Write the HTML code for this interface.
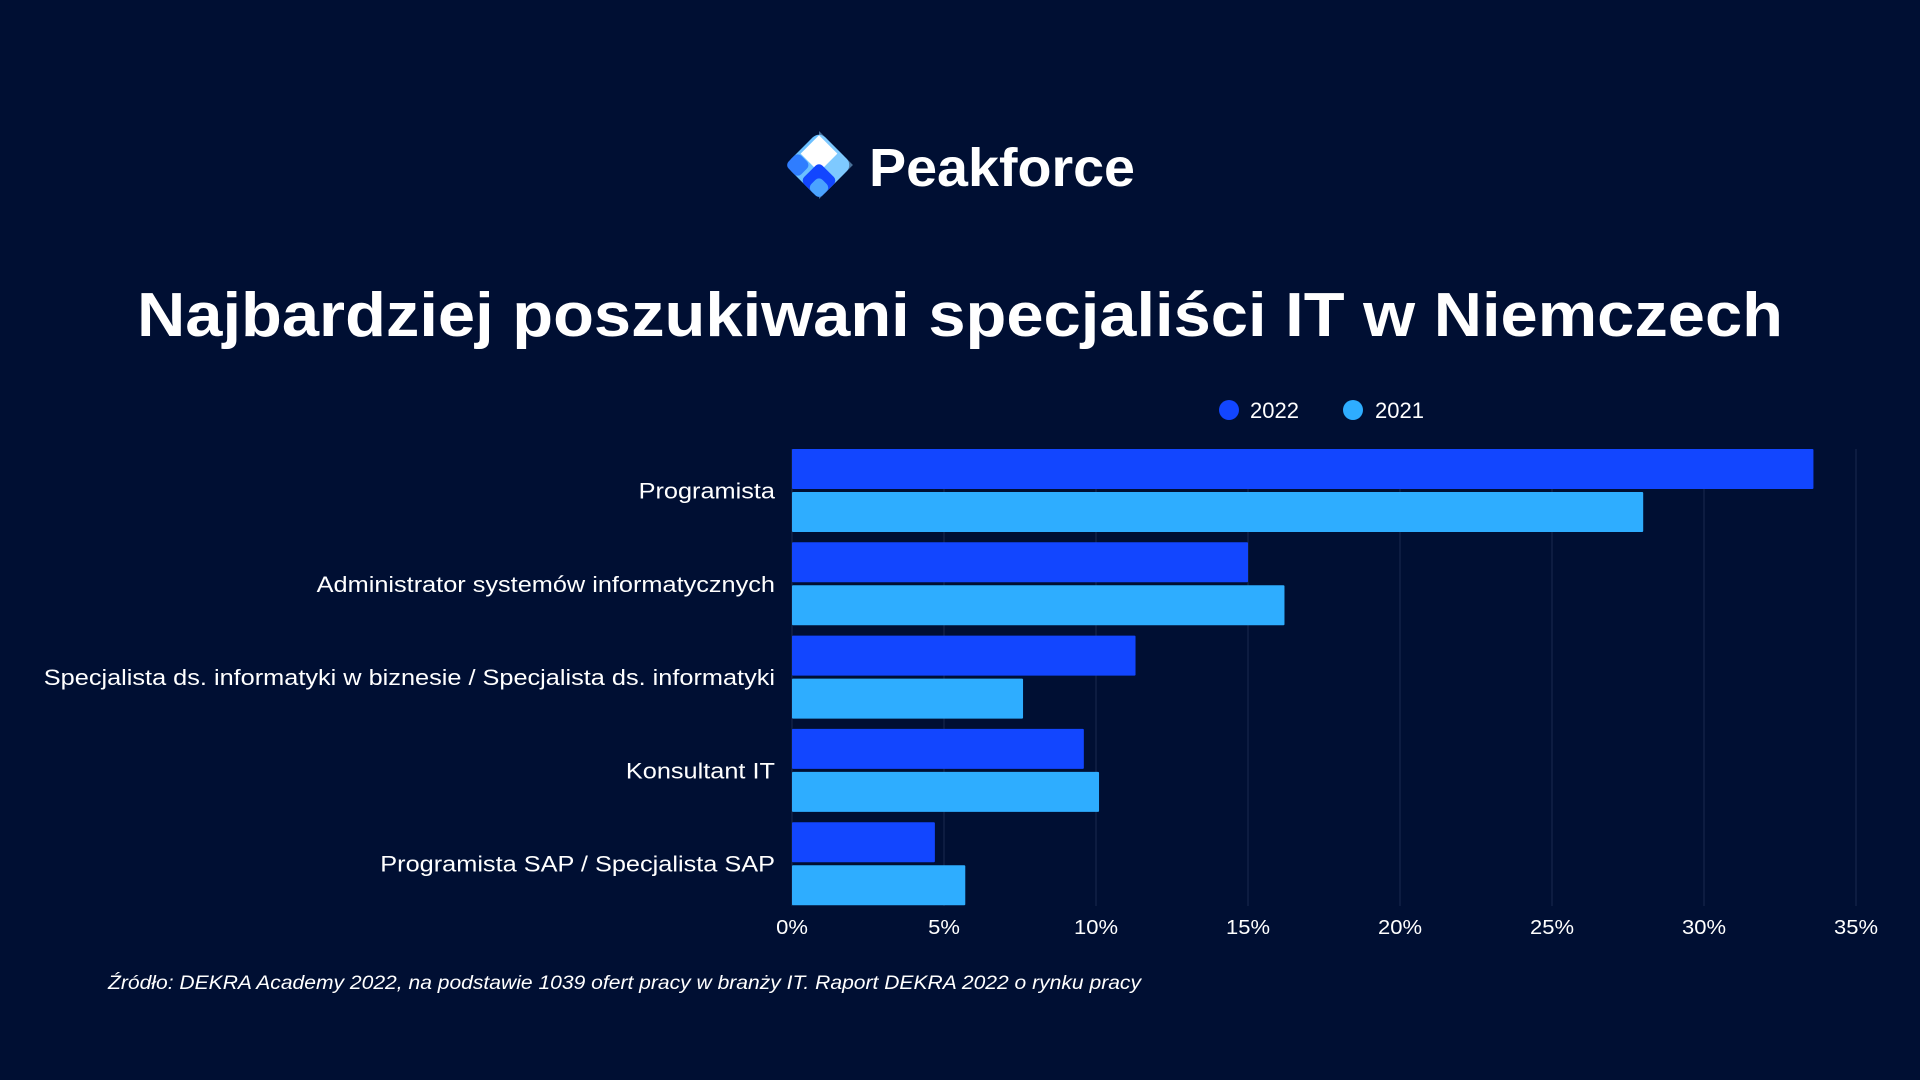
<!DOCTYPE html>
<html><head><meta charset="utf-8"><style>
html,body{margin:0;padding:0;background:#000f33;}
svg{display:block;font-family:"Liberation Sans",sans-serif;}
</style></head><body>
<svg id="chart" width="1920" height="1080" viewBox="0 0 1920 1080">
<rect width="1920" height="1080" fill="#000f33"/>
<g>
  <g transform="translate(819,165) rotate(45)">
    <rect x="-24" y="-24" width="48" height="48" rx="9" fill="#6cc0ff"/>
    <polygon points="-24,-24 24,-24 24,24" fill="#8fd1ff" opacity="0.5"/>
    <rect x="-13" y="-13" width="26" height="26" fill="#ffffff" transform="translate(-8,-8)"/>
    <rect x="-2" y="-2" width="26" height="26" rx="5" fill="#1246ff"/>
    <rect x="-24" y="6" width="18" height="18" rx="5" fill="#2f7dff"/>
    <rect x="8" y="8" width="16" height="16" rx="5" fill="#4aa3ff"/>
  </g>
  <text x="869" y="186" font-size="54" font-weight="bold" fill="#ffffff" textLength="266" lengthAdjust="spacingAndGlyphs">Peakforce</text>
</g>
<text x="960" y="336" text-anchor="middle" font-size="62" font-weight="bold" fill="#ffffff" textLength="1646" lengthAdjust="spacingAndGlyphs">Najbardziej poszukiwani specjaliści IT w Niemczech</text>
<g>
  <g>
    <circle cx="1229" cy="410" r="10" fill="#1246ff"/>
    <text x="1250" y="418" font-size="22" fill="#ffffff">2022</text>
  </g>
  <g>
    <circle cx="1353" cy="410" r="10" fill="#2eadff"/>
    <text x="1375" y="418" font-size="22" fill="#ffffff">2021</text>
  </g>
</g>
<g id="grid"></g>
<g id="bars"></g>
<g id="ylabels"></g>
<g id="xticks"></g>
<text x="108" y="989" font-size="19" font-style="italic" fill="#ffffff" textLength="1033" lengthAdjust="spacingAndGlyphs">Źródło: DEKRA Academy 2022, na podstawie 1039 ofert pracy w branży IT. Raport DEKRA 2022 o rynku pracy</text>
</svg>
<script>
const categories = ["Programista","Administrator systemów informatycznych","Specjalista ds. informatyki w biznesie / Specjalista ds. informatyki","Konsultant IT","Programista SAP / Specjalista SAP"];
const values2022 = [33.6, 15.0, 11.3, 9.6, 4.7];
const values2021 = [28.0, 16.2, 7.6, 10.1, 5.7];
const tickValues = [0,5,10,15,20,25,30,35];
const tickLabels = ["0%","5%","10%","15%","20%","25%","30%","35%"];

const NS="http://www.w3.org/2000/svg";
const x0=792, x1=1856, xmax=35, plotTop=449, pitch=93.3, barH=40, gap=3, plotBottom=906;
const xs=v=>x0+(x1-x0)*v/xmax;
function mk(tag,attrs,parent){const e=document.createElementNS(NS,tag);for(const k in attrs)e.setAttribute(k,attrs[k]);parent.appendChild(e);return e;}
function widen(t,f){try{const w=t.getComputedTextLength();if(w>0){t.setAttribute('textLength',(w*f).toFixed(1));t.setAttribute('lengthAdjust','spacingAndGlyphs');}}catch(e){}}
const grid=document.getElementById('grid'), bars=document.getElementById('bars'), yl=document.getElementById('ylabels'), xt=document.getElementById('xticks');
tickValues.forEach((t,i)=>{
  const l=mk('line',{x1:xs(t),x2:xs(t),y1:plotTop,y2:plotBottom,stroke:'#1a2a4f','stroke-width':1},grid);
  
  
  const tx=mk('text',{x:xs(t),y:934,'text-anchor':'middle','font-size':20,fill:'#ffffff'},xt);
  tx.textContent=tickLabels[i];
  
  
  widen(tx,1.1);
});
categories.forEach((c,i)=>{
  const gy=plotTop+pitch*i;
  const b1=mk('rect',{x:x0,y:gy,width:xs(values2022[i])-x0,height:barH,fill:'#1246ff',rx:1},bars);
  
  
  const b2=mk('rect',{x:x0,y:gy+barH+gap,width:xs(values2021[i])-x0,height:barH,fill:'#2eadff',rx:1},bars);
  
  
  const t=mk('text',{x:775,y:gy+barH+gap/2+8,'text-anchor':'end','font-size':22,fill:'#ffffff'},yl);
  t.textContent=c;
  
  
  widen(t,1.15);
});
</script>
</body></html>
